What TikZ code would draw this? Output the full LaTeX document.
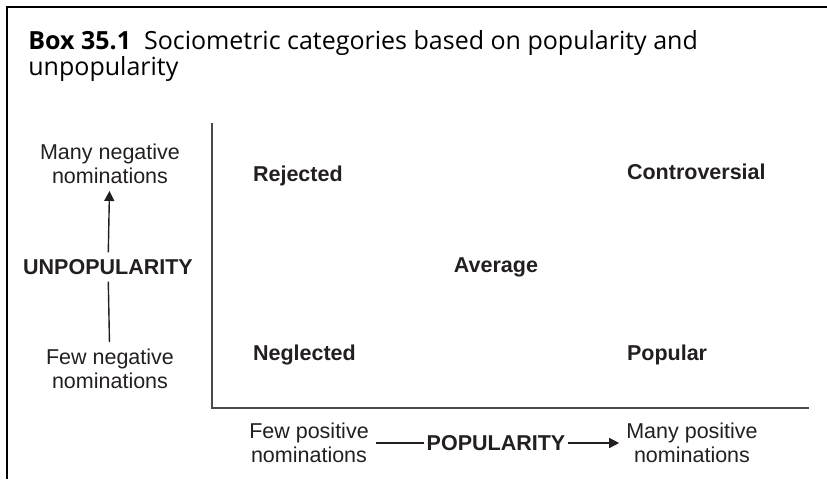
\documentclass[tikz,border=0pt]{standalone}
\usepackage{fontspec}
\setmainfont{Liberation Sans}
\newfontfamily\titlefont{Open Sans}
\usetikzlibrary{arrows.meta}

\definecolor{textgray}{HTML}{231F20}
\definecolor{axisgray}{HTML}{4A4A4A}

\begin{document}
\begin{tikzpicture} [
    x=0.5pt, y=-0.5pt,
    every node/.style = { text=textgray, font=\fontsize{10.75}{12}\selectfont },
    block/.style    = { rectangle, draw=none, text centered, align=center },
    cat/.style      = { rectangle, draw=none, anchor=west,
                        font=\fontsize{10.75}{12}\selectfont\bfseries },
    line/.style     = { draw, textgray, line width=0.7pt },
    axis/.style     = { draw, axisgray, line width=0.8pt },
    frame/.style    = { draw, black, line width=1pt },
  ]
  \useasboundingbox (0,0) rectangle (827,479);

  % box frame and title
  \draw[frame] (827,7) -- (7,7) -- (7,479);
  \node[anchor=north west, inner sep=0pt, align=left,
        font=\titlefont\fontsize{12.5}{13}\selectfont, text=black]
    (title) at (28,30)
    {\textbf{Box 35.1}\ \ Sociometric categories based on popularity and\\unpopularity};

  % axes
  \coordinate (top)    at (212,123);
  \coordinate (origin) at (212,408);
  \coordinate (right)  at (809,408);
  \draw[axis] (top) -- (origin) -- (right);

  % Define nodes
  \node[block](manyneg) at (110,164) {Many negative\\nominations};
  \node[block, font=\fontsize{10.75}{12}\selectfont\bfseries](unpop) at (108,267) {UNPOPULARITY};
  \node[block](fewneg) at (110,369) {Few negative\\nominations};

  \node[block](fewpos) at (309,443) {Few positive\\nominations};
  \node[block, inner xsep=1pt, font=\fontsize{10.75}{12}\selectfont\bfseries](pop) at (496,443) {POPULARITY};
  \node[block](manypos) at (692,443) {Many positive\\nominations};

  \node[cat](rejected) at (246,176) {Rejected};
  \node[cat](controversial) at (620,172) {Controversial};
  \node[cat, anchor=center](average) at (496,267) {Average};
  \node[cat](neglected) at (246,355) {Neglected};
  \node[cat](popular) at (620,355) {Popular};

  % connect the nodes
  \path [line, -{Triangle[length=5pt,width=5pt]}] (unpop) -- (manyneg);
  \path [line] (unpop) -- (fewneg);
  \path [line] (fewpos) -- (pop);
  \path [line, -{Triangle[length=5pt,width=5pt]}] (pop) -- (manypos);
\end{tikzpicture}
\end{document}
